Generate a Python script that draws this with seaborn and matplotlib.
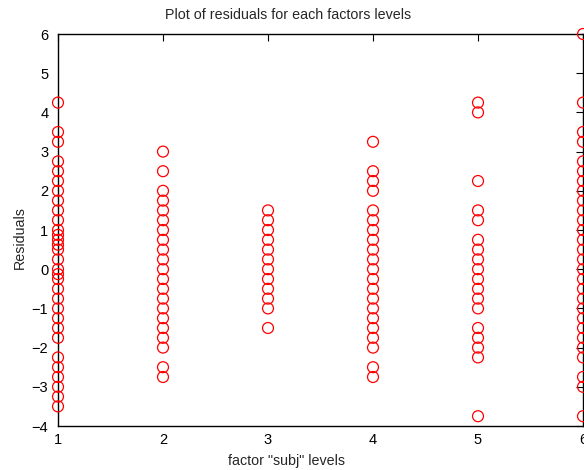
import matplotlib
matplotlib.use("Agg")
import matplotlib.pyplot as plt
import numpy as np
import pandas as pd
import seaborn as sns

# Residuals grouped by level of the "subj" factor
level_1 = [4.25, 3.5, 3.25, 2.75, 2.5, 2.25, 2.0, 1.75, 1.5, 1.25, 1.0, 0.875, 0.75,
           0.625, 0.5, 0.25, 0.0, -0.125, -0.25, -0.5, -0.75, -1.0, -1.25, -1.5,
           -1.75, -2.25, -2.5, -2.75, -3.0, -3.25, -3.5]
level_2 = [3.0, 2.5, 2.0, 1.75, 1.5, 1.25, 1.0, 0.75, 0.5, 0.25, 0.0, -0.25, -0.5,
           -0.75, -1.0, -1.25, -1.5, -1.75, -2.0, -2.5, -2.75]
level_3 = [1.5, 1.25, 1.0, 0.75, 0.5, 0.25, 0.0, -0.25, -0.5, -0.75, -1.0, -1.5]
level_4 = [3.25, 2.5, 2.25, 2.0, 1.5, 1.25, 1.0, 0.75, 0.5, 0.25, 0.0, -0.25, -0.5,
           -0.75, -1.0, -1.25, -1.5, -1.75, -2.0, -2.5, -2.75]
level_5 = [4.25, 4.0, 2.25, 1.5, 1.25, 0.75, 0.5, 0.25, 0.0, -0.25, -0.5, -0.75,
           -1.0, -1.5, -1.75, -2.0, -2.25, -3.75]
level_6 = [6.0, 4.25, 3.5, 3.25, 2.75, 2.5, 2.25, 2.0, 1.75, 1.5, 1.25, 1.0, 0.75,
           0.5, 0.25, 0.0, -0.25, -0.5, -0.75, -1.0, -1.25, -1.5, -1.75, -2.0,
           -2.25, -2.75, -3.0, -3.75]

levels = [1, 2, 3, 4, 5, 6]
residuals = [level_1, level_2, level_3, level_4, level_5, level_6]
x_ticks = [1, 2, 3, 4, 5, 6]
y_ticks = [-4, -3, -2, -1, 0, 1, 2, 3, 4, 5, 6]

df = pd.DataFrame({
    "level": np.concatenate([[lv] * len(r) for lv, r in zip(levels, residuals)]),
    "residual": np.concatenate(residuals),
})

sns.set_style("white")
plt.rcParams["font.family"] = ["Liberation Sans", "DejaVu Sans"]
plt.rcParams["font.size"] = 10

W, H = 584, 470
fig = plt.figure(figsize=(W / 100, H / 100), dpi=100)
ax = fig.add_axes([58 / W, 44 / H, 525 / W, 392 / H])

sns.scatterplot(data=df, x="level", y="residual", ax=ax,
                marker="o", s=62, facecolors="none", edgecolor="#ff0000",
                linewidth=0.9, clip_on=False, legend=False, zorder=3)

ax.set_xlim(1, 6)
ax.set_ylim(-4, 6)
ax.set_xticks(x_ticks)
ax.set_yticks(y_ticks)
ax.set_xticklabels([str(t) for t in x_ticks])
ax.set_yticklabels(["\u2212" + str(-t) if t < 0 else str(t) for t in y_ticks])

for side in ["left", "right", "top", "bottom"]:
    ax.spines[side].set_visible(True)
    ax.spines[side].set_color("black")
    ax.spines[side].set_linewidth(1.0)
ax.tick_params(direction="in", length=5, width=0.8, colors="black",
               top=True, right=True, labelsize=10.5)
ax.tick_params(axis="y", pad=7)
ax.tick_params(axis="x", pad=5)

fig.text(288 / W, 1 - 15 / H, "Plot of residuals for each factors levels",
         fontsize=10.3, ha="center", va="center")
ax.set_xlabel('factor "subj" levels', fontsize=10.3)
ax.xaxis.set_label_coords((286 - 58) / 525, -(461 - 426) / 392)
ax.xaxis.label.set_va("center")
ax.set_ylabel("Residuals", fontsize=10.3)
ax.yaxis.set_label_coords(-(58 - 20) / 525, (426 - 238) / 392)
ax.yaxis.label.set_va("center")

fig.savefig("out.png", dpi=100, facecolor="white")
